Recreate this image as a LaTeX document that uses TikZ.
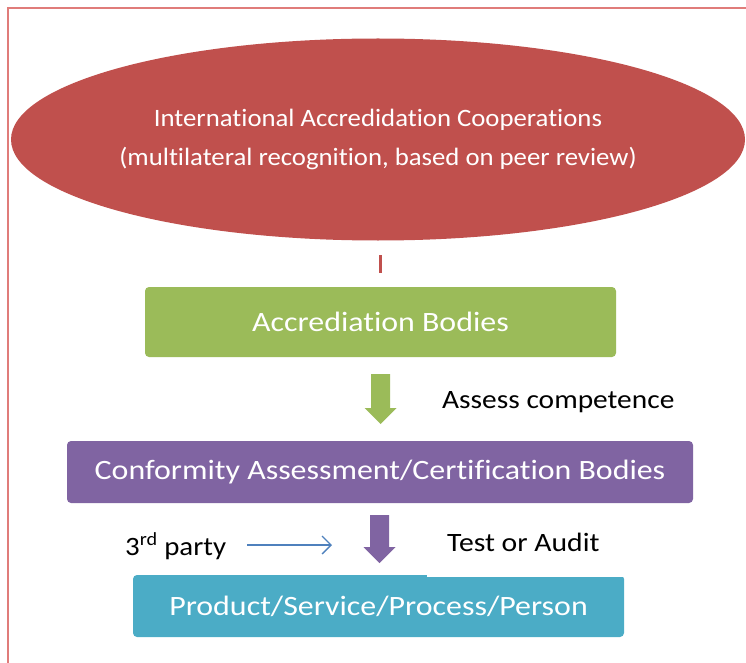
\documentclass[tikz,border=0pt]{standalone}
\usepackage{graphicx}
\usepackage{fontspec}
\setmainfont{Carlito}[Ligatures=NoCommon]
\usetikzlibrary{arrows.meta,shapes.geometric}

\definecolor{coopred}{HTML}{C0504D}
\definecolor{framered}{HTML}{E07C7A}
\definecolor{bodygreen}{HTML}{9BBB59}
\definecolor{cabpurple}{HTML}{8064A2}
\definecolor{itemteal}{HTML}{4BACC6}
\definecolor{partyblue}{HTML}{4F81BD}

% horizontally widened text
\newcommand{\widetext}[2]{\scalebox{#1}[1]{#2}}

\tikzset{
  levelbox/.style={rectangle, rounded corners=4pt, inner sep=0pt, text=white,
    font=\fontsize{28}{32}\selectfont},
  sidelabel/.style={inner sep=0pt, text=black, font=\fontsize{26.5}{30}\selectfont},
}

% fat downward block arrow starting at a named top coordinate
\newcommand{\blockdown}[3]{% colour, top coordinate name, length
  \fill[#1] ([xshift=-9.5pt]#2) -- ([xshift=9.5pt]#2)
    -- ([xshift=9.5pt,yshift=-#3+16pt]#2) -- ([xshift=16pt,yshift=-#3+16pt]#2)
    -- ([yshift=-#3]#2) -- ([xshift=-16pt,yshift=-#3+16pt]#2)
    -- ([xshift=-9.5pt,yshift=-#3+16pt]#2) -- cycle;}

\begin{document}
\begin{tikzpicture}[x=1pt,y=-1pt]
\useasboundingbox (0,0) rectangle (746,663);

% page frame (top and left edges)
\draw[framered, line width=1.6pt] (746,8) -- (8,8) -- (8,663);

% top level
\node[ellipse, fill=coopred, minimum width=734pt, minimum height=202pt, inner sep=0pt,
  text=white, align=center, font=\fontsize{25}{38.5}\selectfont] (iac) at (378,139.5)
  {\widetext{1.07}{International Accredidation Cooperations}\\
   \widetext{1.07}{(multilateral recognition, based on peer review)}};

\coordinate (linktop) at (380,255);
\coordinate (linkbot) at (380,273);
\draw[coopred, line width=3pt] (linktop) -- (linkbot);

% bodies
\node[levelbox, fill=bodygreen, minimum width=471pt, minimum height=70pt] (ab) at (380.5,322)
  {\widetext{1.14}{Accrediation Bodies}};
\node[levelbox, fill=cabpurple, minimum width=626pt, minimum height=62pt] (cab) at (380,472)
  {\widetext{1.14}{Conformity Assessment/Certification Bodies}};
\node[levelbox, fill=itemteal, minimum width=491pt, minimum height=62pt] (psp) at (378.5,606)
  {\widetext{1.14}{Product/Service/Process/Person}};
\fill[white] (427,572.5) rectangle (630,576.5);

% block arrows between levels
\coordinate (greentop) at (380.5,374);
\blockdown{bodygreen}{greentop}{50pt}
\coordinate (purpletop) at (379.5,515);
\blockdown{cabpurple}{purpletop}{48pt}

% labels
\node[sidelabel, anchor=west] (assess) at (442,402) {\widetext{1.11}{Assess competence}};
\node[sidelabel, anchor=base west] (party) at (125,555) {\widetext{1.09}{3\textsuperscript{rd} party}};
\node[sidelabel, anchor=west] (audit) at (447,542) {\widetext{1.12}{Test or Audit}};

% third party arrow
\coordinate (pa) at (247,545);
\coordinate (pb) at (332,545);
\draw[partyblue, line width=1.3pt, -{Straight Barb[length=9pt,width=18pt,line width=1.3pt]}] (pa) -- (pb);
\end{tikzpicture}
\end{document}
